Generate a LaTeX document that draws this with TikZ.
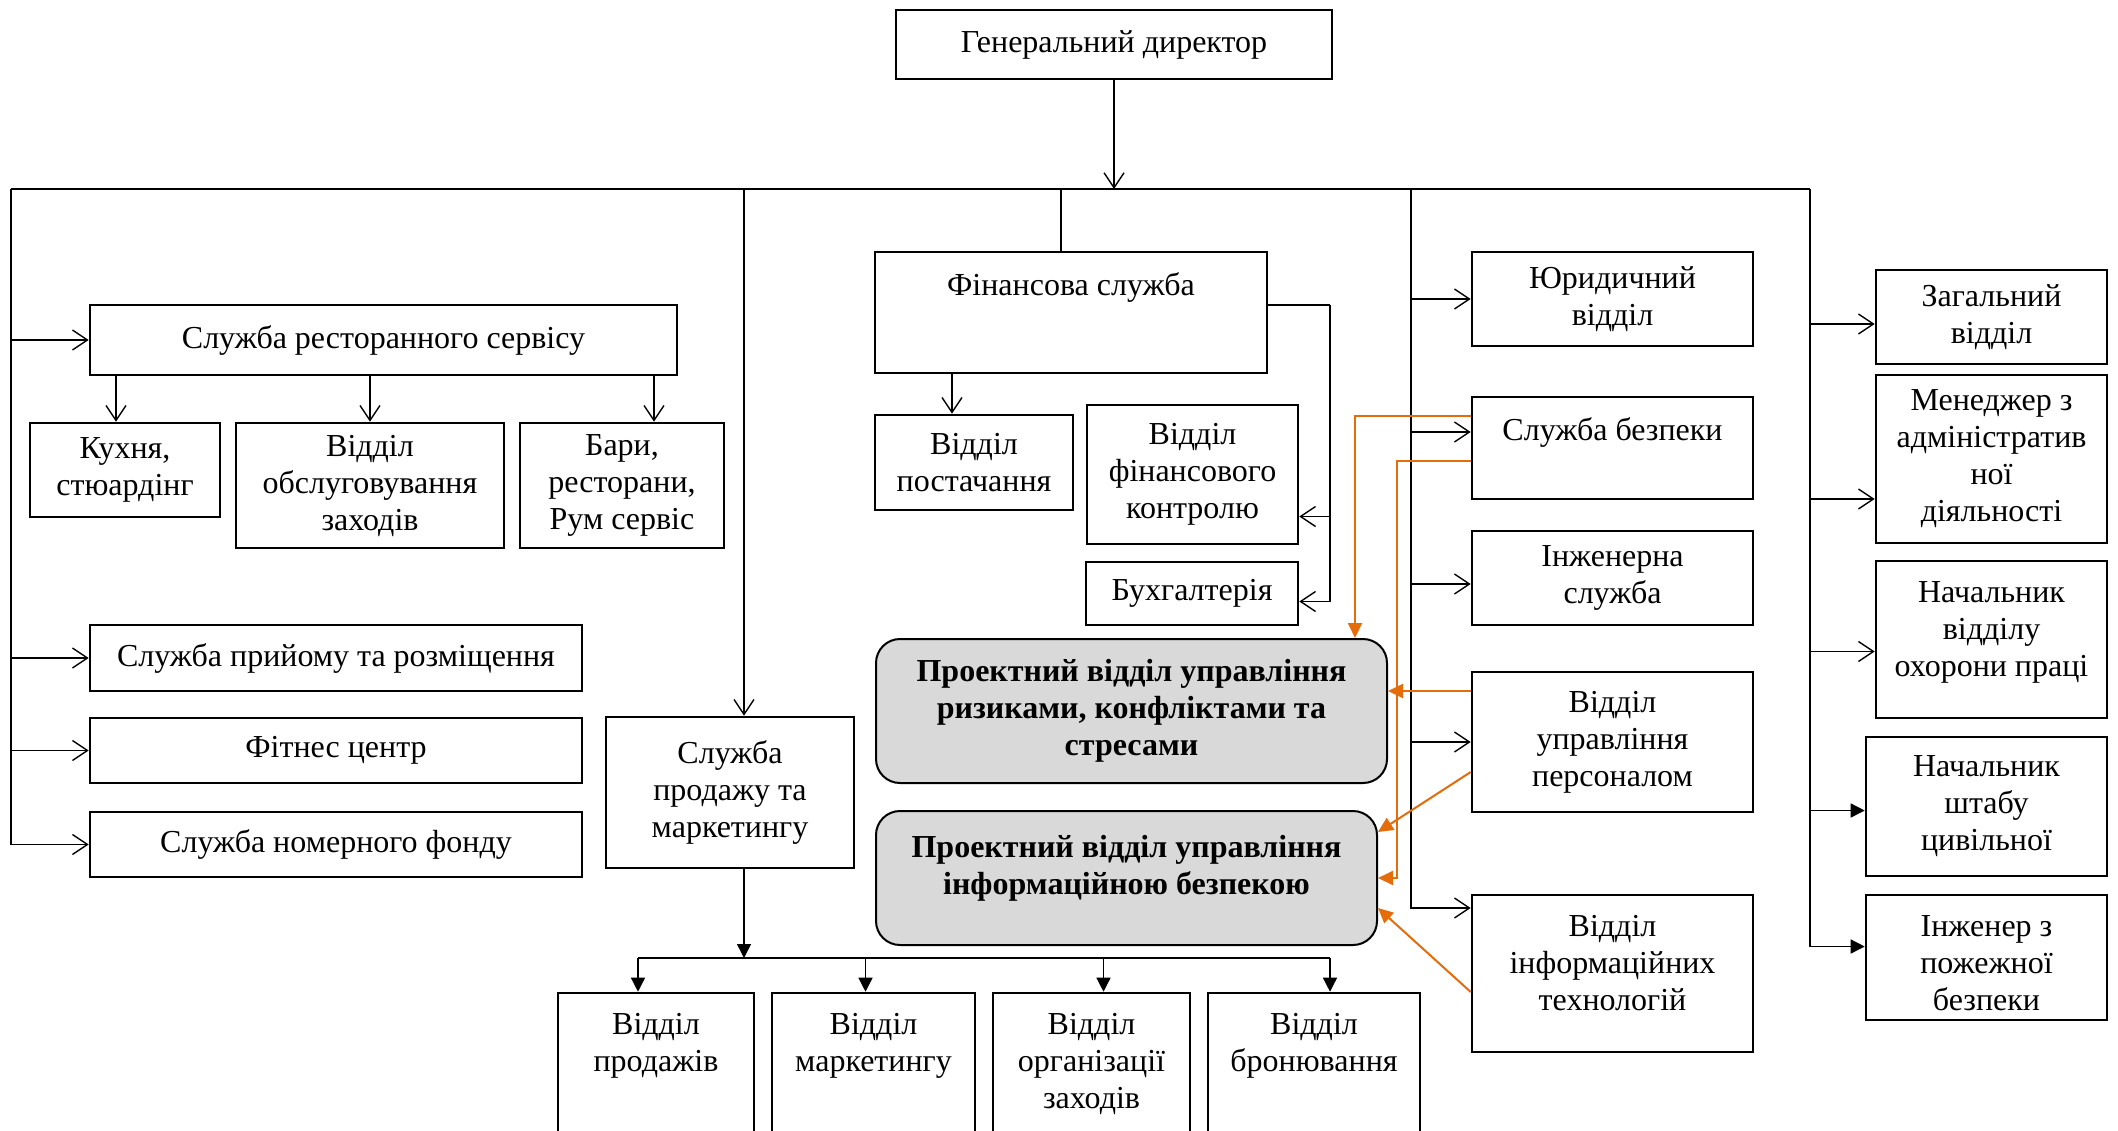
\documentclass[tikz,border=0pt]{standalone}
\usepackage{fontspec}
\setmainfont{Liberation Serif}
\usetikzlibrary{arrows.meta}
\definecolor{riskorange}{HTML}{E46C0A}
\definecolor{projgray}{HTML}{D9D9D9}

\begin{document}
\begin{tikzpicture}[x=0.5pt, y=-0.5pt,
    font=\rmfamily\fontsize{16}{18.5}\selectfont,
    >={Straight Barb[length=7.5pt,width=10pt]},
    line width=0.7pt,
    box/.style={draw, line width=1.3pt, fill=white, inner sep=0pt, align=center},
    proj/.style={box, line width=1pt, fill=projgray, rounded corners=12pt,
      font=\rmfamily\fontsize{16}{18.5}\selectfont\bfseries},
    toptext/.style={anchor=north, align=center, inner sep=0pt, yshift=-10.5pt},
    tri/.style={-{Triangle[length=7pt,width=7pt]}},
    orng/.style={draw=riskorange, line width=1pt, -{Triangle[length=7.5pt,width=7pt]}}]
    \useasboundingbox (0,0) rectangle (2118,1130);
    \clip (0,0) rectangle (2118,1130);

    \node[box, minimum width=218pt, minimum height=34.5pt] (gd) at (1114,44.5) {Генеральний директор};
    \node[box, minimum width=293.5pt, minimum height=35pt] (rest) at (383.5,340) {Служба ресторанного сервісу};
    \node[box, minimum width=95pt, minimum height=47pt] (kitchen) at (125,470) {Кухня,\\стюардінг};
    \node[box, minimum width=134pt, minimum height=62.5pt] (events) at (370,485.5) {Відділ\\обслуговування\\заходів};
    \node[box, minimum width=102pt, minimum height=62.5pt] (bars) at (622,485.5) {Бари,\\ресторани,\\Рум сервіс};
    \node[box, minimum width=246pt, minimum height=33pt] (reception) at (336,658) {Служба прийому та розміщення};
    \node[box, minimum width=246pt, minimum height=32.5pt] (fitness) at (336,750.5) {Фітнес центр};
    \node[box, minimum width=246pt, minimum height=32.5pt] (rooms) at (336,844.5) {Служба номерного фонду};
    \node[box, minimum width=124pt, minimum height=75.5pt] (sales) at (730,792.5) {Служба\\продажу та\\маркетингу};

    \node[box, minimum width=196pt, minimum height=60.5pt, label={[toptext]north:Фінансова служба}] (fin) at (1071,312.5) {};
    \node[box, minimum width=99pt, minimum height=47.5pt] (supply) at (974,462.5) {Відділ\\постачання};
    \node[box, minimum width=105.5pt, minimum height=69.5pt] (finctl) at (1192.5,474.5) {Відділ\\фінансового\\контролю};
    \node[box, minimum width=106pt, minimum height=31.5pt] (acc) at (1192,593.5) {Бухгалтерія};
    \node[proj, minimum width=255.5pt, minimum height=72pt] (risk) at (1131.5,711) {Проектний відділ управління\\ризиками, конфліктами та\\стресами};
    \node[proj, minimum width=250.5pt, minimum height=67pt,
      label={[toptext, yshift=-2pt, font=\rmfamily\fontsize{16}{18.5}\selectfont\bfseries]north:{Проектний відділ управління\\інформаційною безпекою}}] (infosec) at (1126.5,878) {};

    \node[box, minimum width=140.5pt, minimum height=47pt] (law) at (1612.5,299) {Юридичний\\відділ};
    \node[box, minimum width=140.5pt, minimum height=51pt, label={[toptext]north:Служба безпеки}] (sec) at (1612.5,448) {};
    \node[box, minimum width=140.5pt, minimum height=47pt] (eng) at (1612.5,578) {Інженерна\\служба};
    \node[box, minimum width=140.5pt, minimum height=70pt] (hr) at (1612.5,742) {Відділ\\управління\\персоналом};
    \node[box, minimum width=140.5pt, minimum height=78.5pt, label={[toptext]north:{Відділ\\інформаційних\\технологій}}] (it) at (1612.5,973.5) {};

    \node[box, minimum width=115.5pt, minimum height=47pt] (gen) at (1991.5,317) {Загальний\\відділ};
    \node[box, minimum width=115.5pt, minimum height=84pt] (adm) at (1991.5,459) {Менеджер з\\адміністратив\\ної\\діяльності};
    \node[box, minimum width=115.5pt, minimum height=78.5pt, label={[toptext]north:{Начальник\\відділу\\охорони праці}}] (safety) at (1991.5,639.5) {};
    \node[box, minimum width=120.5pt, minimum height=69.5pt] (civil) at (1986.5,806.5) {Начальник\\штабу\\цивільної};
    \node[box, minimum width=120.5pt, minimum height=62.5pt, label={[toptext]north:{Інженер з\\пожежної\\безпеки}}] (fire) at (1986.5,957.5) {};

    \node[box, minimum width=98pt, minimum height=93.5pt, label={[toptext]north:{Відділ\\продажів}}] (sale) at (656,1086.5) {};
    \node[box, minimum width=101.5pt, minimum height=93.5pt, label={[toptext]north:{Відділ\\маркетингу}}] (mkt) at (873.5,1086.5) {};
    \node[box, minimum width=98.5pt, minimum height=93.5pt, label={[toptext]north:{Відділ\\організації\\заходів}}] (org) at (1091.5,1086.5) {};
    \node[box, minimum width=106pt, minimum height=93.5pt, label={[toptext]north:{Відділ\\бронювання}}] (book) at (1314,1086.5) {};

    \coordinate (busL) at (11,189);
    \coordinate (busM) at (1411,189);
    \coordinate (busR) at (1810,189);
    \coordinate (finR) at (1330,305);
    \coordinate (sbus) at (744,958);

    \draw[->] (gd.south) -- (gd.south |- busL);
    \draw (busL) -- (busR);
    \draw[->] (busL) |- (rest);
    \draw[->] (busL) |- (reception);
    \draw[->] (busL) |- (fitness);
    \draw[->] (busL) |- (rooms);
    \draw[->] ([xshift=-4.5pt]kitchen.north |- rest.south) -- ([xshift=-4.5pt]kitchen.north);
    \draw[->] (events.north |- rest.south) -- (events.north);
    \draw[->] ([xshift=16pt]bars.north |- rest.south) -- ([xshift=16pt]bars.north);

    \draw[->] ([xshift=7pt]sales.north |- busL) -- ([xshift=7pt]sales.north);
    \draw ([xshift=-5pt]fin.north |- busL) -- ([xshift=-5pt]fin.north);
    \draw[->] ([xshift=-11pt]supply.north |- fin.south) -- ([xshift=-11pt]supply.north);
    \draw (fin.east |- finR) -- (finR);
    \draw[->] (finR) |- ([yshift=-21pt]finctl.east);
    \draw[->] (finR) |- ([yshift=-4pt]acc.east);

    \draw (busM) -- ([yshift=32.75pt]it.west -| busM);
    \draw[->] (busM) |- (law);
    \draw[->] (busM) |- ([yshift=8pt]sec.west);
    \draw[->] (busM) |- ([yshift=-3pt]eng.west);
    \draw[->] (busM) |- (hr);
    \draw[->] (busM) |- ([yshift=32.75pt]it.west);

    \draw[->] (busR) |- ([yshift=-3.5pt]gen.west);
    \draw[->] (busR) |- ([yshift=-20pt]adm.west);
    \draw[->] (busR) |- ([yshift=-6pt]safety.west);
    \draw[tri] (busR) |- ([yshift=-2pt]civil.west);
    \draw[tri] (busR) |- ([yshift=5.5pt]fire.west);

    \draw[tri] ([xshift=7pt]sales.south) -- (sbus);
    \draw ([xshift=-9pt]sale.north |- sbus) -- ([xshift=8pt]book.north |- sbus);
    \draw[tri] ([xshift=-9pt]sale.north |- sbus) -- ([xshift=-9pt]sale.north);
    \draw[tri] ([xshift=-4pt]mkt.north |- sbus) -- ([xshift=-4pt]mkt.north);
    \draw[tri] ([xshift=6pt]org.north |- sbus) -- ([xshift=6pt]org.north);
    \draw[tri] ([xshift=8pt]book.north |- sbus) -- ([xshift=8pt]book.north);

    \draw[orng] ([yshift=16pt]sec.west) -| ([xshift=-16.5pt]risk.north east);
    \draw[orng] ([yshift=-6.5pt]sec.west) -- ++(-37pt,0) |- (infosec.east);
    \draw[orng] ([yshift=25.5pt]hr.west) -- ([yshift=25.5pt]hr.west -| risk.east);
    \draw[orng] ([yshift=-15pt]hr.west) -- ([yshift=23pt]infosec.east);
    \draw[orng] ([yshift=-9.25pt]it.west) -- ([yshift=-15pt]infosec.east);
\end{tikzpicture}
\end{document}
